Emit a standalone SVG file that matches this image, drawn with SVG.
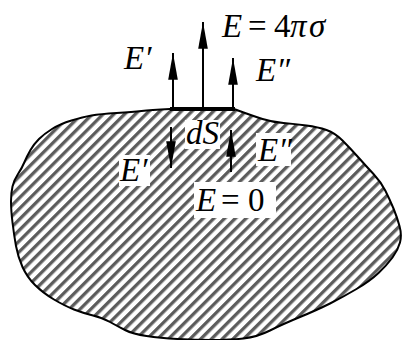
<svg xmlns="http://www.w3.org/2000/svg" width="403" height="340" viewBox="0 0 403 340">
<style>
.lbl{font-family:"Liberation Serif","Times New Roman",Times,serif;font-size:33px;fill:#000}
.it{font-style:italic}
.bg{fill:#fff}
.shaft{stroke:#000;stroke-width:2;fill:none}
</style>
<defs>
<pattern id="hatch" patternUnits="userSpaceOnUse" width="7.6" height="7.6" patternTransform="rotate(45)">
<rect x="0" y="0" width="3.3" height="7.6" fill="#5c5c5c"/>
</pattern>
<marker id="ah" markerUnits="userSpaceOnUse" markerWidth="30" markerHeight="12" viewBox="-26 -5 28 10" refX="0" refY="0" orient="auto">
<path d="M0,0 L-25,-4.5 L-25,4.5 Z" fill="#000"/>
</marker>
</defs>
<g id="body">
<path d="M 234,109 Q 253,116 262.5,119 Q 272,122 283.5,123 Q 295,124 306.5,125.5 Q 318,127 326.5,130 Q 335,133 342.5,140.5 Q 350,148 358,157 Q 366,166 373.5,174 Q 381,182 385.5,191 Q 390,200 393.5,208.5 Q 397,217 399.5,226 Q 402,235 400,242.5 Q 398,250 392.5,257.5 Q 387,265 378.5,273 Q 370,281 356.5,289 Q 343,297 330,303.5 Q 317,310 300,317 Q 283,324 270,330.5 Q 257,337 243.5,338.5 Q 230,340 212.5,340 Q 195,340 177.5,339 Q 160,338 146.5,336 Q 133,334 125,330 Q 117,326 110,322 Q 103,318 93,315.5 Q 83,313 74,309.5 Q 65,306 54,299.5 Q 43,293 35,285 Q 27,277 22.5,267 Q 18,257 16,246 Q 14,235 12.5,222.5 Q 11,210 11,201.5 Q 11,193 12.5,186.5 Q 14,180 18,174 Q 22,168 24.5,162 Q 27,156 30.5,150 Q 34,144 39,139 Q 44,134 52,129 Q 60,124 71.5,120.5 Q 83,117 91.5,115.5 Q 100,114 116.5,113 Q 133,112 141.5,111 Q 150,110 170,109 Z" fill="url(#hatch)" stroke="#000" stroke-width="2"/>
</g>
<g id="dS-element">
<line x1="170" y1="109" x2="235" y2="109" stroke="#000" stroke-width="4"/>
</g>
<g id="connectors">
<line class="shaft" x1="173" y1="109" x2="173" y2="53" marker-end="url(#ah)"/>
<line class="shaft" x1="203" y1="109" x2="203" y2="22" marker-end="url(#ah)"/>
<line class="shaft" x1="233" y1="109" x2="233" y2="58" marker-end="url(#ah)"/>
<line class="shaft" x1="171" y1="127" x2="171" y2="168" marker-end="url(#ah)"/>
<line class="shaft" x1="231" y1="172" x2="231" y2="130" marker-end="url(#ah)"/>
</g>
<g id="label-E-sigma">
<text class="lbl" y="37"><tspan class="it" x="222">E</tspan><tspan x="248">=</tspan><tspan x="274">4</tspan><tspan class="it" x="290">π</tspan><tspan class="it" x="309">σ</tspan></text>
</g>
<g id="label-E1-top">
<text class="lbl it" x="124" y="69">E′</text>
</g>
<g id="label-E2-top">
<text class="lbl it" x="256" y="81">E″</text>
</g>
<g id="label-dS">
<rect class="bg" x="185" y="120" width="35" height="29"/>
<text class="lbl it" x="186" y="144">dS</text>
</g>
<g id="label-E2-bottom">
<rect class="bg" x="256" y="133" width="35" height="33"/>
<text class="lbl it" x="258" y="161">E″</text>
</g>
<g id="label-E1-bottom">
<rect class="bg" x="119" y="155" width="31" height="31"/>
<text class="lbl it" x="120" y="181">E′</text>
</g>
<g id="label-E0">
<rect class="bg" x="194" y="182" width="82" height="36"/>
<text class="lbl" y="211"><tspan class="it" x="196">E</tspan><tspan x="221">=</tspan><tspan x="248">0</tspan></text>
</g>
</svg>
